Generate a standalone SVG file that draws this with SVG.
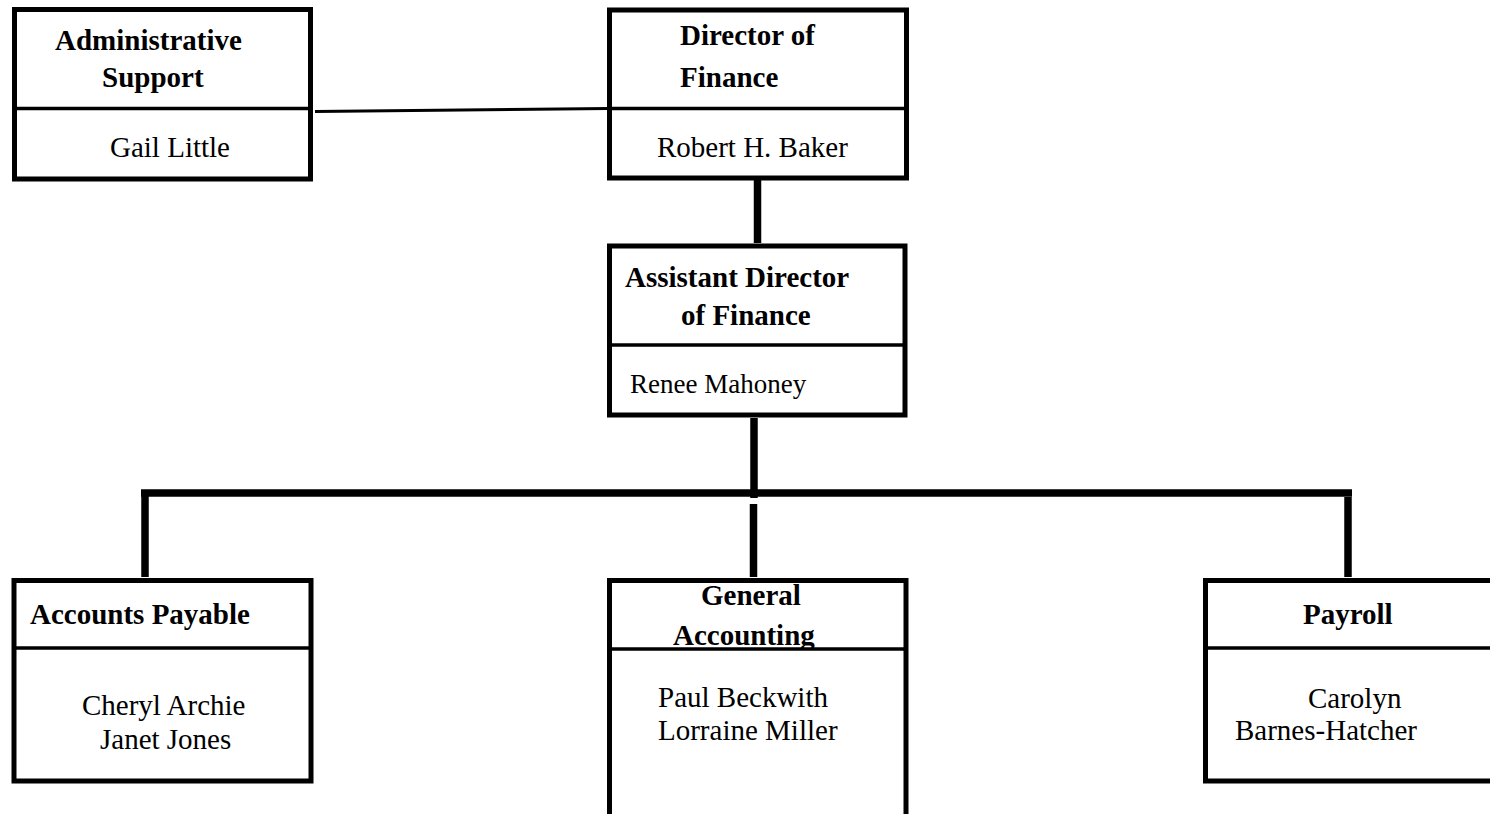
<svg xmlns="http://www.w3.org/2000/svg" width="1490" height="814" viewBox="0 0 1490 814">
<style>
.frame{fill:none;stroke:#000;stroke-width:5}
.div{stroke:#000;stroke-width:3.5}
.t{font-family:"Liberation Serif","Times New Roman",serif;font-size:29px;fill:#000}
.b{font-weight:bold}
.thick{stroke:#000;stroke-width:7.5;fill:none}
.thin{stroke:#000;stroke-width:3;fill:none}
</style>
<rect width="1490" height="814" fill="#fff"/>
<g id="connectors">
<line class="thin" x1="315" y1="111.5" x2="609" y2="108.5"/>
<line class="thick" x1="757.5" y1="180" x2="757.5" y2="243"/>
<line class="thick" x1="754" y1="418" x2="754" y2="498"/>
<line class="thick" x1="141" y1="493" x2="1352" y2="493"/>
<line class="thick" x1="145" y1="493" x2="145" y2="577"/>
<line class="thick" x1="753.5" y1="504" x2="753.5" y2="577"/>
<line class="thick" x1="1348" y1="497" x2="1348" y2="577"/>
</g>
<g id="admin-support">
<rect class="frame" x="14.5" y="9.5" width="296" height="169.5"/>
<line class="div" x1="14.5" y1="108.5" x2="310.5" y2="108.5"/>
<text class="t b" x="55" y="50">Administrative</text>
<text class="t b" x="102" y="87">Support</text>
<text class="t" x="110" y="157">Gail Little</text>
</g>
<g id="director">
<rect class="frame" x="609.5" y="10" width="297" height="168"/>
<line class="div" x1="609.5" y1="108.5" x2="906.5" y2="108.5"/>
<text class="t b" x="680" y="45">Director of</text>
<text class="t b" x="680" y="87">Finance</text>
<text class="t" x="657" y="157">Robert H. Baker</text>
</g>
<g id="assistant-director">
<rect class="frame" x="609.5" y="246" width="295.5" height="169"/>
<line class="div" x1="609.5" y1="345" x2="905" y2="345"/>
<text class="t b" x="625" y="287">Assistant Director</text>
<text class="t b" x="681" y="325">of Finance</text>
<text class="t" x="630" y="393" style="font-size:27px">Renee Mahoney</text>
</g>
<g id="accounts-payable">
<rect class="frame" x="14" y="580.5" width="297" height="200.5"/>
<line class="div" x1="14" y1="648" x2="311" y2="648"/>
<text class="t b" x="30" y="624">Accounts Payable</text>
<text class="t" x="82" y="715">Cheryl Archie</text>
<text class="t" x="100" y="749">Janet Jones</text>
</g>
<g id="general-accounting">
<text class="t b" x="701" y="605">General</text>
<text class="t b" x="673" y="645">Accounting</text>
<rect x="609.5" y="648" width="296.5" height="170" fill="#fff"/>
<path class="frame" d="M609.5 814 V580.5 H906 V814"/>
<line class="div" x1="609.5" y1="649" x2="906" y2="649"/>
<text class="t" x="658" y="707">Paul Beckwith</text>
<text class="t" x="658" y="740">Lorraine Miller</text>
</g>
<g id="payroll">
<path class="frame" d="M1495 580.5 H1205.5 V781 H1495"/>
<line class="div" x1="1205.5" y1="648" x2="1495" y2="648"/>
<text class="t b" x="1303" y="624">Payroll</text>
<text class="t" x="1308" y="708">Carolyn</text>
<text class="t" x="1235" y="740">Barnes-Hatcher</text>
</g>
</svg>
